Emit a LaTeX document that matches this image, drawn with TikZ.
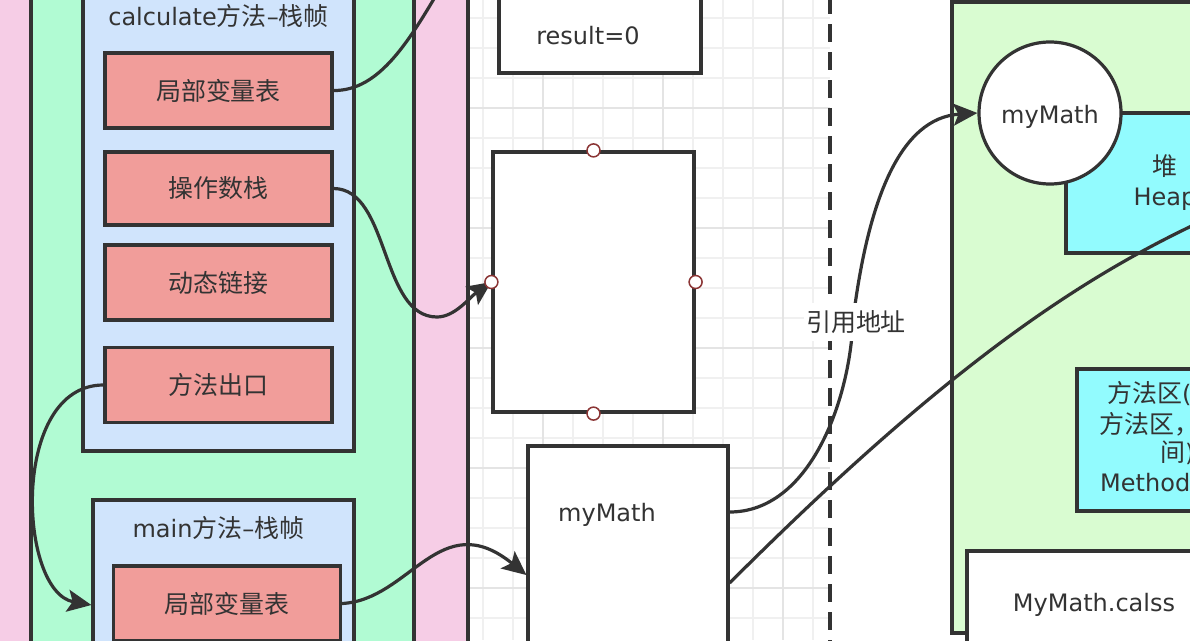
\documentclass[tikz,border=0pt]{standalone}
\usepackage{fontspec}
\setmainfont{DejaVu Sans}
\newfontfamily\cjk[Scale=1.04]{Noto Sans CJK SC}
\usetikzlibrary{arrows.meta}
\definecolor{linec}{HTML}{333333}
\definecolor{pinkc}{HTML}{F6CDE6}
\definecolor{greenc}{HTML}{B1FBD3}
\definecolor{bluec}{HTML}{D0E4FC}
\definecolor{redc}{HTML}{F19D9A}
\definecolor{lgreenc}{HTML}{D9FCD1}
\definecolor{cyanc}{HTML}{92FBFE}
\definecolor{ptc}{HTML}{8B3535}
\definecolor{gridmin}{HTML}{F0F0F0}
\definecolor{gridmaj}{HTML}{E4E4E4}

\begin{document}
\begin{tikzpicture}[x=1pt,y=-1pt,
	every node/.style={font=\fontsize{24}{30}\selectfont, text=linec},
	box/.style={draw=linec, line width=3.2pt, rectangle},
	redbox/.style={box, fill=redc, minimum width=227, minimum height=75},
	conn/.style={draw=linec, line width=3.2pt},
	arr/.style={-{Stealth[length=24pt,width=22pt,inset=5pt]}}]
				\useasboundingbox (0,0) rectangle (1190,640);
				\clip (0,0) rectangle (1190,640);
				\fill[white] (0,0) rectangle (1190,640);
				\foreach \x in {483,513,...,813} \draw[gridmin, line width=1.2pt] (\x,0) -- (\x,640);
				\foreach \y in {18,48,...,638} \draw[gridmin, line width=1.2pt] (468,\y) -- (830,\y);
				\foreach \x in {543,663,783} \draw[gridmaj, line width=1.5pt] (\x,0) -- (\x,640);
				\foreach \y in {108,228,348,468,588} \draw[gridmaj, line width=1.5pt] (468,\y) -- (830,\y);
				\filldraw[fill=pinkc, draw=linec, line width=3.2pt] (-40,-60) rectangle (468,700);
				\filldraw[fill=greenc, draw=linec, line width=3.2pt] (31,-40) rectangle (414,690);
				\node[box, fill=bluec, minimum width=271, minimum height=476] (calcf) at (218.5,213) {};
				\node (calct) at (218.5,16) {calculate{\cjk 方法}–{\cjk 栈帧}};
				\node[redbox] (cl) at (218.5,90.5) {\cjk 局部变量表};
				\node[redbox, minimum height=73] (co) at (218.5,188.5) {\cjk 操作数栈};
				\node[redbox] (cd) at (218.5,282.5) {\cjk 动态链接};
				\node[redbox] (ce) at (218.5,385) {\cjk 方法出口};
				\node[box, fill=bluec, minimum width=261, minimum height=210] (mainf) at (223.5,605) {};
				\node (maint) at (218.5,528) {main{\cjk 方法}–{\cjk 栈帧}};
				\node[redbox] (ml) at (227,603.5) {\cjk 局部变量表};
				\node[box, fill=white, minimum width=202, minimum height=76] (res) at (600,35) {};
				\node (rest) at (588,36) {result=0};
				\node[box, fill=white, minimum width=201, minimum height=260] (buf) at (593.5,282) {};
				\node[box, fill=white, minimum width=200, minimum height=258] (mm) at (628,575) {};
				\node (mmt) at (607,515) {myMath};
				\node[box, fill=lgreenc, minimum width=348, minimum height=631] (rgn) at (1126,317.5) {};
				\node[box, fill=cyanc, minimum width=198, minimum height=140, align=center] (heap) at (1165,183) {{\cjk 堆}\\Heap};
				\node[box, circle, fill=white, minimum size=142, text height=20pt, text depth=0pt] (obj) at (1050,113) {myMath};
				\node[box, fill=cyanc, minimum width=223, minimum height=142] (meth) at (1188.5,440) {};
				\node[anchor=west, inner sep=0pt] (meth1) at (1107,394) {{\cjk 方法区}(};
				\node[anchor=west, inner sep=0pt] (meth2) at (1099,424) {\cjk 方法区，};
				\node[anchor=west, inner sep=0pt] (meth3) at (1160,453) {{\cjk 间})};
				\node[anchor=west, inner sep=0pt] (meth4) at (1100,483) {Method};
				\node[box, fill=white, minimum width=333, minimum height=169] (cls) at (1133.5,635.5) {};
				\node (clst) at (1094,605) {MyMath.calss};
				\draw[linec, line width=3.5pt, dash pattern=on 18pt off 10pt] (830,-4) -- (830,644);
				\coordinate (topout) at (445,-20);
				\coordinate (heapout) at (1250,200);
				\draw[conn] (cl.east) .. controls (380,91) and (410,40) .. (topout);
				\draw[conn, arr] (co.east) .. controls (390,189) and (380,317) .. (437,317) .. controls (455,317) and (470,297) .. (buf.west);
				\draw[conn, arr] (ce.west) .. controls (10,385) and (18,592) .. (mainf.west);
				\draw[conn, arr] (ml.east) .. controls (410,600) and (440,505) .. (mm.west);
				\draw[conn, arr] ([yshift=63pt]mm.east) .. controls (810,512) and (850,400) .. (853,320) .. controls (868,200) and (900,118) .. (obj.west);
				\draw[conn] ([yshift=-8pt]mm.east) .. controls (960,353) and (1100,262) .. (heapout);
				\foreach \a in {north,south,east,west} \filldraw[fill=white, draw=ptc, line width=1.5pt] (buf.\a) circle (6.5pt);
				\node[fill=white, inner xsep=2pt, minimum height=38] (refl) at (856,322) {\cjk 引用地址};
\end{tikzpicture}
\end{document}
